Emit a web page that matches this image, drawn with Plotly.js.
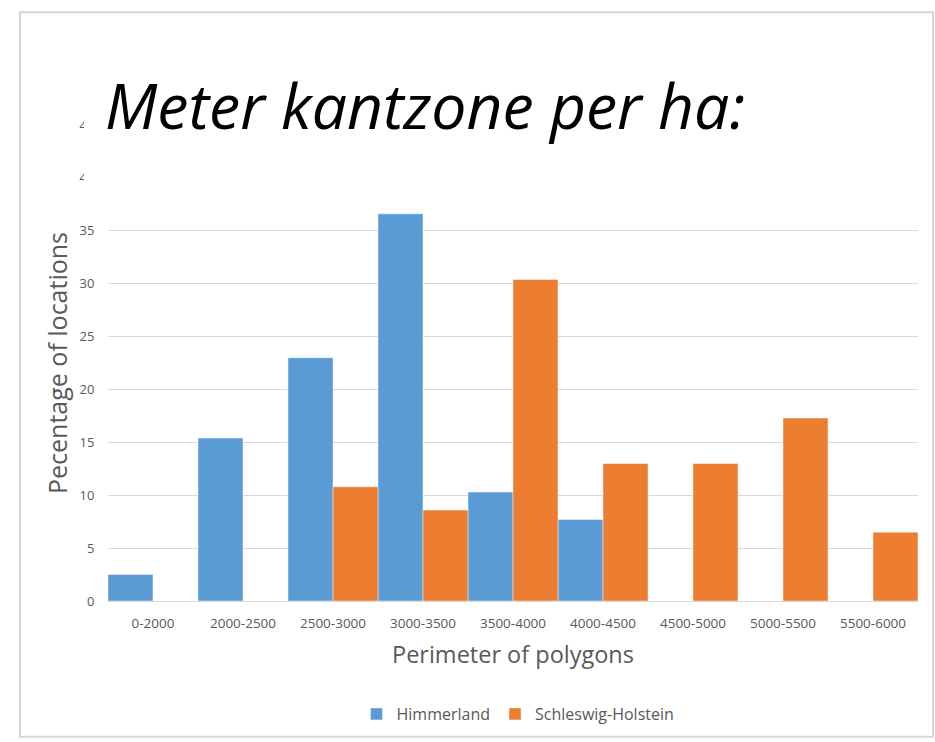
<!DOCTYPE html>
<html>
<head>
<meta charset="utf-8">
<script src="https://cdn.plot.ly/plotly-3.0.1.min.js"></script>
<style>html,body{margin:0;padding:0;background:#fff;}#chart{width:935px;height:742px;}</style>
</head>
<body>
<div id="chart"></div>
<script>
const categories = ["0-2000","2000-2500","2500-3000","3000-3500","3500-4000","4000-4500","4500-5000","5000-5500","5500-6000"];
const himmerland = [2.5, 15.4, 23.0, 36.6, 10.3, 7.7, null, null, null];
const schleswigHolstein = [null, null, 10.8, 8.6, 30.4, 13.0, 13.0, 17.3, 6.5];
const seriesNames = ["Himmerland", "Schleswig-Holstein"];
const titleText = "Meter kantzone per ha:";
const xTitle = "Perimeter of polygons";
const yTitle = "Pecentage of locations";

// pixel geometry helpers
const W = 935, H = 742;
const L = 108, R = 918, T = 125, B = 602;
const px = x => (x - L) / (R - L);
const py = y => (B - y) / (B - T);

const grey = "#595959";
const font = "Open Sans, sans-serif";

const traces = [
  {type: "bar", name: seriesNames[0], x: categories, y: himmerland,
   marker: {color: "#5B9BD5", line: {color: "rgba(255,255,255,0.45)", width: 1}}},
  {type: "bar", name: seriesNames[1], x: categories, y: schleswigHolstein,
   marker: {color: "#ED7D31", line: {color: "rgba(255,255,255,0.45)", width: 1}}}
];

const layout = {
  width: W, height: H,
  margin: {l: L, r: W - R, t: T, b: H - B},
  paper_bgcolor: "#fff", plot_bgcolor: "#fff",
  barmode: "group", bargap: 0, bargroupgap: 0,
  showlegend: true,
  legend: {orientation: "h", x: px(518), xanchor: "center", y: py(714), yanchor: "middle",
           font: {family: font, size: 16, color: grey}, itemwidth: 30},
  xaxis: {type: "category", tickfont: {family: font, size: 13.5, color: grey},
          ticks: "outside", ticklen: 10, tickcolor: "rgba(0,0,0,0)",
          showline: true, linecolor: "#D9D9D9", linewidth: 1,
          title: {text: xTitle, font: {family: font, size: 23.5, color: grey}, standoff: 15}},
  yaxis: {range: [0, 45], dtick: 5, tickfont: {family: font, size: 13, color: grey},
          ticks: "outside", ticklen: 10, tickcolor: "rgba(0,0,0,0)",
          gridcolor: "#D9D9D9", gridwidth: 1, zeroline: false, showline: false,
          title: {text: yTitle, font: {family: font, size: 25, color: grey}, standoff: 4}},
  shapes: [
    {type: "rect", xref: "paper", yref: "paper", layer: "below",
     x0: px(20), x1: px(933), y0: py(738), y1: py(12),
     line: {color: "#D6D6D6", width: 2}, fillcolor: "rgba(0,0,0,0)"},
    {type: "rect", xref: "paper", yref: "paper", layer: "above",
     x0: px(84), x1: px(925), y0: py(205), y1: py(40),
     line: {width: 0}, fillcolor: "#fff"}
  ],
  annotations: [
    {text: titleText, xref: "paper", yref: "paper", x: px(103), y: py(104),
     xanchor: "left", yanchor: "middle", showarrow: false,
     font: {family: "Open Sans, sans-serif", size: 62.5, color: "#000", style: "italic"}}
  ]
};

Plotly.newPlot("chart", traces, layout, {displayModeBar: false, staticPlot: true});
</script>
</body>
</html>
